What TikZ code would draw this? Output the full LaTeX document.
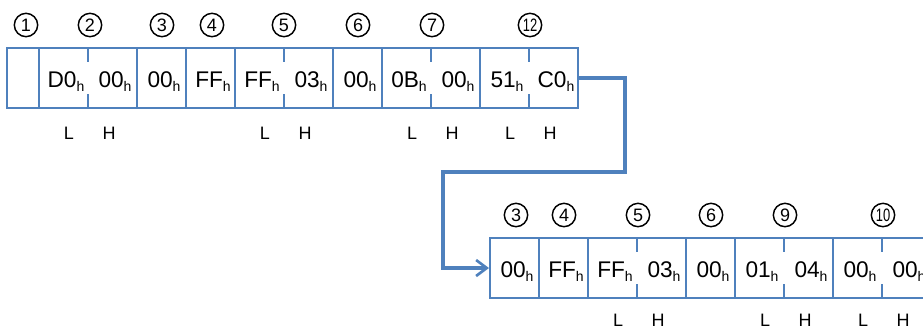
\documentclass[tikz,border=0pt]{standalone}
\usepackage{fontspec}
\setmainfont{Liberation Sans}
\usetikzlibrary{arrows.meta}
\definecolor{boxblue}{RGB}{79,129,189}
\newcommand\hsub{\raisebox{-3pt}{\fontsize{10.5pt}{12pt}\selectfont h}}
\newcommand\narrow[1]{\scalebox{0.72}[1]{#1}}
\tikzset{
  cellbox/.style={draw=boxblue, line width=1.5pt, inner sep=0pt, outer sep=0pt,
                  minimum height=45pt, anchor=north west},
  single/.style={cellbox, minimum width=36.75pt},
  double/.style={cellbox, minimum width=73.5pt},
  splittick/.style={draw=boxblue, line width=1.5pt},
  val/.style={font=\fontsize{17pt}{19pt}\selectfont, inner sep=0pt, anchor=base},
  num/.style={circle, draw=black, line width=1.1pt, inner sep=0pt, minimum size=17.5pt,
              font=\fontsize{13.5pt}{15pt}\selectfont},
  lh/.style={font=\fontsize{13.5pt}{15pt}\selectfont, inner sep=0pt},
  link/.style={draw=boxblue, line width=2.5pt,
               -{Straight Barb[length=8pt,width=12pt,line width=2pt]}},
}
\begin{document}
\begin{tikzpicture}[x=0.75pt,y=-0.75pt]
\clip (0,0) rectangle (923,330);
% ---------- row 1 ----------
\node[cellbox, minimum width=24pt] (c1) at (7,48) {};
\node[double] (c2) at (39,48) {};
\node[single] (c3) at (137,48) {};
\node[single] (c4) at (186,48) {};
\node[double] (c5) at (235,48) {};
\node[single] (c6) at (333,48) {};
\node[double] (c7) at (382,48) {};
\node[double] (c12) at (480,48) {};
\foreach \c in {c2,c5,c7,c12}{
  \draw[splittick] (\c.north) -- ++(0,14);
  \draw[splittick] (\c.south) -- ++(0,-14);
}
\node[val] (v2a) at (66,87) {D0\hsub};
\node[val] (v2b) at (115,87) {00\hsub};
\node[val] (v3) at (164,87) {00\hsub};
\node[val] (v4) at (213,87) {FF\hsub};
\node[val] (v5a) at (262,87) {FF\hsub};
\node[val] (v5b) at (311,87) {03\hsub};
\node[val] (v6) at (360,87) {00\hsub};
\node[val] (v7a) at (409,87) {0B\hsub};
\node[val] (v7b) at (458,87) {00\hsub};
\node[val] (v12a) at (507,87) {51\hsub};
\node[val] (v12b) at (556,87) {C0\hsub};
\node[num] (n1) at (26,25) {1};
\node[num] (n2) at (90,25) {2};
\node[num] (n3) at (162,25) {3};
\node[num] (n4) at (212,25) {4};
\node[num] (n5) at (284,25) {5};
\node[num] (n6) at (358,25) {6};
\node[num] (n7) at (432,25) {7};
\node[num] (n12) at (530,25) {\narrow{12}};
\node[lh] (l2) at (69,133) {L};
\node[lh] (h2) at (109,133) {H};
\node[lh] (l5) at (265,133) {L};
\node[lh] (h5) at (305,133) {H};
\node[lh] (l7) at (412,133) {L};
\node[lh] (h7) at (452,133) {H};
\node[lh] (l12) at (510,133) {L};
\node[lh] (h12) at (550,133) {H};
% ---------- row 2 ----------
\node[single] (r3) at (490,238) {};
\node[single] (r4) at (539,238) {};
\node[double] (r5) at (588,238) {};
\node[single] (r6) at (686,238) {};
\node[double] (r9) at (735,238) {};
\node[double] (r10) at (833,238) {};
\foreach \c in {r5,r9,r10}{
  \draw[splittick] (\c.north) -- ++(0,14);
  \draw[splittick] (\c.south) -- ++(0,-14);
}
\node[val] (w3) at (517,277) {00\hsub};
\node[val] (w4) at (566,277) {FF\hsub};
\node[val] (w5a) at (615,277) {FF\hsub};
\node[val] (w5b) at (664,277) {03\hsub};
\node[val] (w6) at (713,277) {00\hsub};
\node[val] (w9a) at (762,277) {01\hsub};
\node[val] (w9b) at (811,277) {04\hsub};
\node[val] (w10a) at (860,277) {00\hsub};
\node[val] (w10b) at (909,277) {00\hsub};
\node[num] (m3) at (516,215) {3};
\node[num] (m4) at (564,215) {4};
\node[num] (m5) at (638,215) {5};
\node[num] (m6) at (711,215) {6};
\node[num] (m9) at (785,215) {9};
\node[num] (m10) at (883,215) {\narrow{10}};
\node[lh] (l5r) at (618,320) {L};
\node[lh] (h5r) at (658,320) {H};
\node[lh] (l9r) at (765,320) {L};
\node[lh] (h9r) at (805,320) {H};
\node[lh] (l10r) at (863,320) {L};
\node[lh] (h10r) at (903,320) {H};
% ---------- connector ----------
\coordinate (k1) at (625,172);
\coordinate (k2) at (443,172);
\draw[link] (c12.east) -| (k1) -- (k2) |- ([xshift=-0.75pt]r3.west);
\end{tikzpicture}
\end{document}
